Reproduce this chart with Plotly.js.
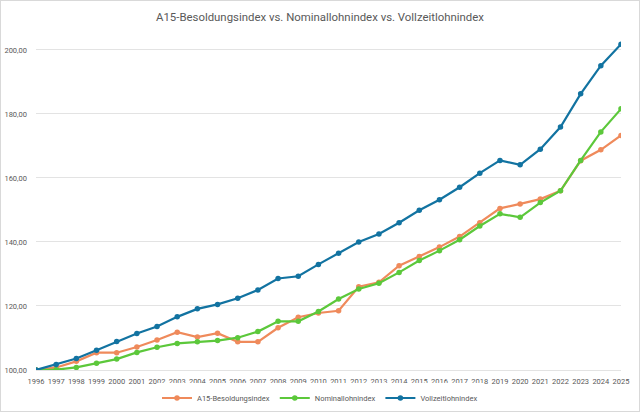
<!DOCTYPE html>
<html>
<head>
<meta charset="utf-8">
<script src="https://cdn.plot.ly/plotly-3.0.1.min.js"></script>
<style>
  html, body { margin: 0; padding: 0; background: #fff; }
  #wrap { position: relative; width: 640px; height: 412px; }
  #chart { width: 640px; height: 412px; }
  #frame { position: absolute; left: 0; top: 0; width: 638px; height: 410px; border: 1px solid #d9d9d9; pointer-events: none; }
</style>
</head>
<body>
<div id="wrap">
  <div id="chart"></div>
  <div id="frame"></div>
</div>
<script>
const years = [
  1996, 1997, 1998, 1999, 2000, 2001, 2002, 2003, 2004, 2005,
  2006, 2007, 2008, 2009, 2010, 2011, 2012, 2013, 2014, 2015,
  2016, 2017, 2018, 2019, 2020, 2021, 2022, 2023, 2024, 2025,
];

const a15Index = [
  100.0, 100.8, 102.7, 105.4, 105.4, 107.2, 109.4, 111.8, 110.3, 111.5,
  108.8, 108.8, 113.2, 116.5, 117.8, 118.5, 126.0, 127.4, 132.6, 135.5,
  138.4, 141.7, 146.0, 150.5, 151.9, 153.4, 156.0, 165.4, 168.8, 173.3,
];

const nominalIndex = [
  100.0, 100.1, 100.8, 102.1, 103.4, 105.5, 107.1, 108.3, 108.8, 109.2,
  110.1, 112.0, 115.2, 115.2, 118.3, 122.2, 125.3, 127.1, 130.5, 134.2,
  137.3, 140.7, 145.0, 148.8, 147.7, 152.3, 156.0, 165.5, 174.4, 181.6,
];

const fulltimeIndex = [
  100.0, 101.7, 103.6, 106.2, 108.9, 111.4, 113.6, 116.6, 119.1, 120.5,
  122.4, 125.0, 128.6, 129.3, 133.0, 136.5, 140.0, 142.5, 146.0, 149.9,
  153.2, 157.1, 161.5, 165.5, 164.1, 169.0, 175.9, 186.3, 195.1, 201.8,
];

const yTicks = [100, 120, 140, 160, 180, 200];

function series(name, values, color) {
  return {
    type: "scatter",
    mode: "lines+markers",
    name,
    x: years,
    y: values,
    line: { color, width: 2.2 },
    marker: { color, size: 5.5, symbol: "circle" },
  };
}

const data = [
  series("A15-Besoldungsindex", a15Index, "#ef8a5b"),
  series("Nominallohnindex", nominalIndex, "#5cc83b"),
  series("Vollzeitlohnindex", fulltimeIndex, "#1273a1"),
];

const layout = {
  width: 640,
  height: 412,
  paper_bgcolor: "#ffffff",
  plot_bgcolor: "#ffffff",
  separators: ",.",
  font: { family: "Roboto, 'DejaVu Sans', sans-serif", color: "#595959", size: 8 },
  margin: { l: 36, r: 19, t: 33, b: 42 },
  title: {
    text: "A15-Besoldungsindex vs. Nominallohnindex vs. Vollzeitlohnindex",
    font: { size: 11.4, color: "#595959" },
    x: 0.5,
    xref: "container",
    y: 0.958,
    yref: "container",
    yanchor: "middle",
  },
  xaxis: {
    range: [1996, 2025],
    tickmode: "array",
    tickvals: years,
    ticktext: years.map(String),
    tickangle: 0,
    automargin: false,
    showgrid: false,
    zeroline: false,
    showline: true,
    linecolor: "#e3e3e3",
    linewidth: 1,
    ticks: "",
    ticklabelstandoff: 4,
    tickfont: { size: 7.5, color: "#595959" },
  },
  yaxis: {
    range: [100, 205.3],
    tickmode: "array",
    tickvals: yTicks,
    tickformat: ".2f",
    automargin: false,
    showgrid: true,
    gridcolor: "#e3e3e3",
    gridwidth: 1,
    zeroline: false,
    showline: false,
    ticks: "",
    ticklabelstandoff: 8,
    tickfont: { size: 7.5, color: "#595959" },
  },
  showlegend: true,
  legend: {
    orientation: "h",
    x: 0.5,
    xref: "container",
    xanchor: "center",
    y: 0.034,
    yref: "container",
    yanchor: "middle",
    font: { size: 7.5, color: "#595959" },
    itemwidth: 30,
    tracegroupgap: 0,
  },
};

Plotly.newPlot("chart", data, layout, { staticPlot: true, displayModeBar: false });
</script>
</body>
</html>
